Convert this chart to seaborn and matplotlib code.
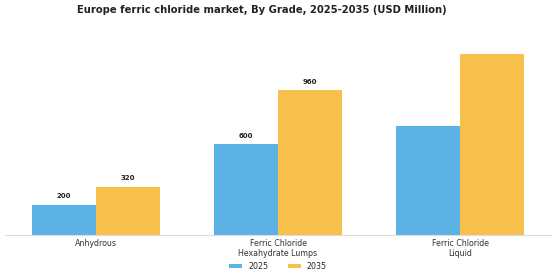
import matplotlib
matplotlib.use("Agg")
import matplotlib.pyplot as plt
import seaborn as sns
import pandas as pd

categories = ["Anhydrous", "Ferric Chloride\nHexahydrate Lumps", "Ferric Chloride\nLiquid"]
years = ["2025", "2035"]
values_2025 = [200, 600, 720]
values_2035 = [320, 960, 1200]
labeled = [True, True, False]

rows = []
for c, v in zip(categories, values_2025):
    rows.append({"Grade": c, "Year": "2025", "Value": v})
for c, v in zip(categories, values_2035):
    rows.append({"Grade": c, "Year": "2035", "Value": v})
df = pd.DataFrame(rows)

sns.set_theme(style="white")
plt.rcParams['font.family'] = ['DejaVu Sans']

fig = plt.figure(figsize=(5.6, 2.8), dpi=100)
ax = fig.add_axes([0.009, 0.161, 0.975, 0.68])
palette = {"2025": "#5BB2E5", "2035": "#F7C04A"}
sns.barplot(data=df, x="Grade", y="Value", hue="Year", palette=palette,
            width=0.7, ax=ax, saturation=1, legend=True, linewidth=0)

for cont, yr in zip(ax.containers, years):
    for bar, lab in zip(cont, labeled):
        if lab:
            ax.text(bar.get_x() + bar.get_width() / 2, bar.get_height() + 35,
                    f"{int(bar.get_height())}", ha="center", va="bottom",
                    fontsize=5, fontweight="bold", color="#222222")

ax.set_xlim(-0.5, 2.5)
ax.set_ylim(0, 1260)
ax.set_yticks([])
ax.set_xlabel("")
ax.set_ylabel("")
for s in ["top", "right", "left"]:
    ax.spines[s].set_visible(False)
ax.spines["bottom"].set_color("#DDDDDD")
ax.spines["bottom"].set_linewidth(0.8)
ax.tick_params(axis="x", labelsize=5.7, colors="#333333", length=0, pad=3)

ax.legend(loc="upper center", bbox_to_anchor=(0.5, -0.105), ncol=2, frameon=False,
          fontsize=5.7, handlelength=1.6, handleheight=0.5, columnspacing=2.5)

fig.text(0.467, 0.965, "Europe ferric chloride market, By Grade, 2025-2035 (USD Million)",
         fontsize=7.2, fontweight="bold", ha="center", va="center", color="#222222")

fig.savefig("out.png", dpi=100)
